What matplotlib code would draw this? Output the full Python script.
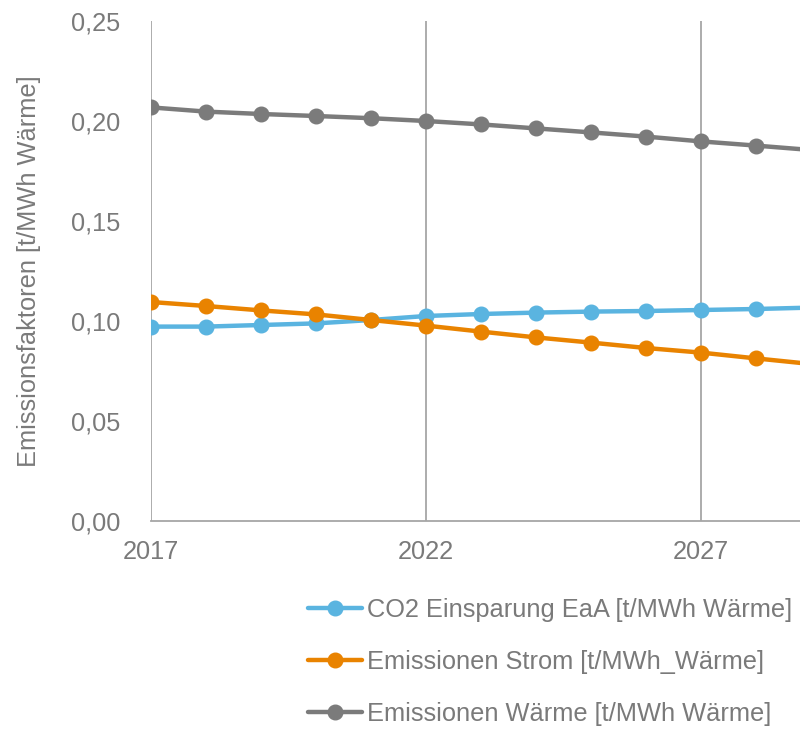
import matplotlib.pyplot as plt
from matplotlib.ticker import FuncFormatter, MultipleLocator

plt.rcParams["font.family"] = ["Liberation Sans", "DejaVu Sans"]

years = list(range(2017, 2030))
co2_einsparung = [0.0972, 0.0972, 0.0980, 0.0988, 0.1005, 0.1025, 0.1035, 0.1042,
                  0.1047, 0.1050, 0.1055, 0.1060, 0.1067]
emissionen_strom = [0.1095, 0.1075, 0.1053, 0.1033, 0.1005, 0.0977, 0.0947, 0.0918,
                    0.0892, 0.0865, 0.0842, 0.0813, 0.0785]
emissionen_waerme = [0.2068, 0.2047, 0.2035, 0.2025, 0.2014, 0.2000, 0.1983, 0.1963,
                     0.1943, 0.1922, 0.1898, 0.1877, 0.1855]
x_ticks = [2017, 2022, 2027]

labels = [
    "CO2 Einsparung EaA [t/MWh Wärme]",
    "Emissionen Strom [t/MWh_Wärme]",
    "Emissionen Wärme [t/MWh Wärme]",
]
colors = ["#5AB4E0", "#E98300", "#7B7B7B"]
text_color = "#7A7A7A"
fs = 18.3

fig = plt.figure(figsize=(8, 7.29), dpi=100)
ax = fig.add_axes([151 / 800, 208 / 729, 649 / 800, 500 / 729])

for series, lab, col in zip([co2_einsparung, emissionen_strom, emissionen_waerme], labels, colors):
    ax.plot(years, series, color=col, lw=3.2, marker="o", ms=10.5, label=lab,
            solid_capstyle="round", zorder=3)

ax.set_xlim(2017, 2017 + 649 / 55)
ax.set_ylim(0, 0.25)
ax.set_xticks(x_ticks)
ax.yaxis.set_major_locator(MultipleLocator(0.05))
ax.yaxis.set_major_formatter(FuncFormatter(lambda v, p: f"{v:.2f}".replace(".", ",")))

ax.grid(axis="x", color="#A6A6A6", lw=1.3, zorder=0)
for s in ["top", "right", "left"]:
    ax.spines[s].set_visible(False)
ax.spines["bottom"].set_color("#A6A6A6")
ax.spines["bottom"].set_linewidth(1.3)

ax.tick_params(axis="both", length=0, labelsize=fs, colors=text_color)
ax.tick_params(axis="y", pad=22)
ax.tick_params(axis="x", pad=14)
ax.set_ylabel("Emissionsfaktoren [t/MWh Wärme]", fontsize=fs, color=text_color, labelpad=22)

fig.legend(loc="upper left", bbox_to_anchor=(298 / 800, 1 - 588 / 729), frameon=False,
           fontsize=fs, labelcolor=text_color, handlelength=2.1, handletextpad=0.2,
           labelspacing=1.1, borderaxespad=0)

fig.savefig("out.png", dpi=100)
